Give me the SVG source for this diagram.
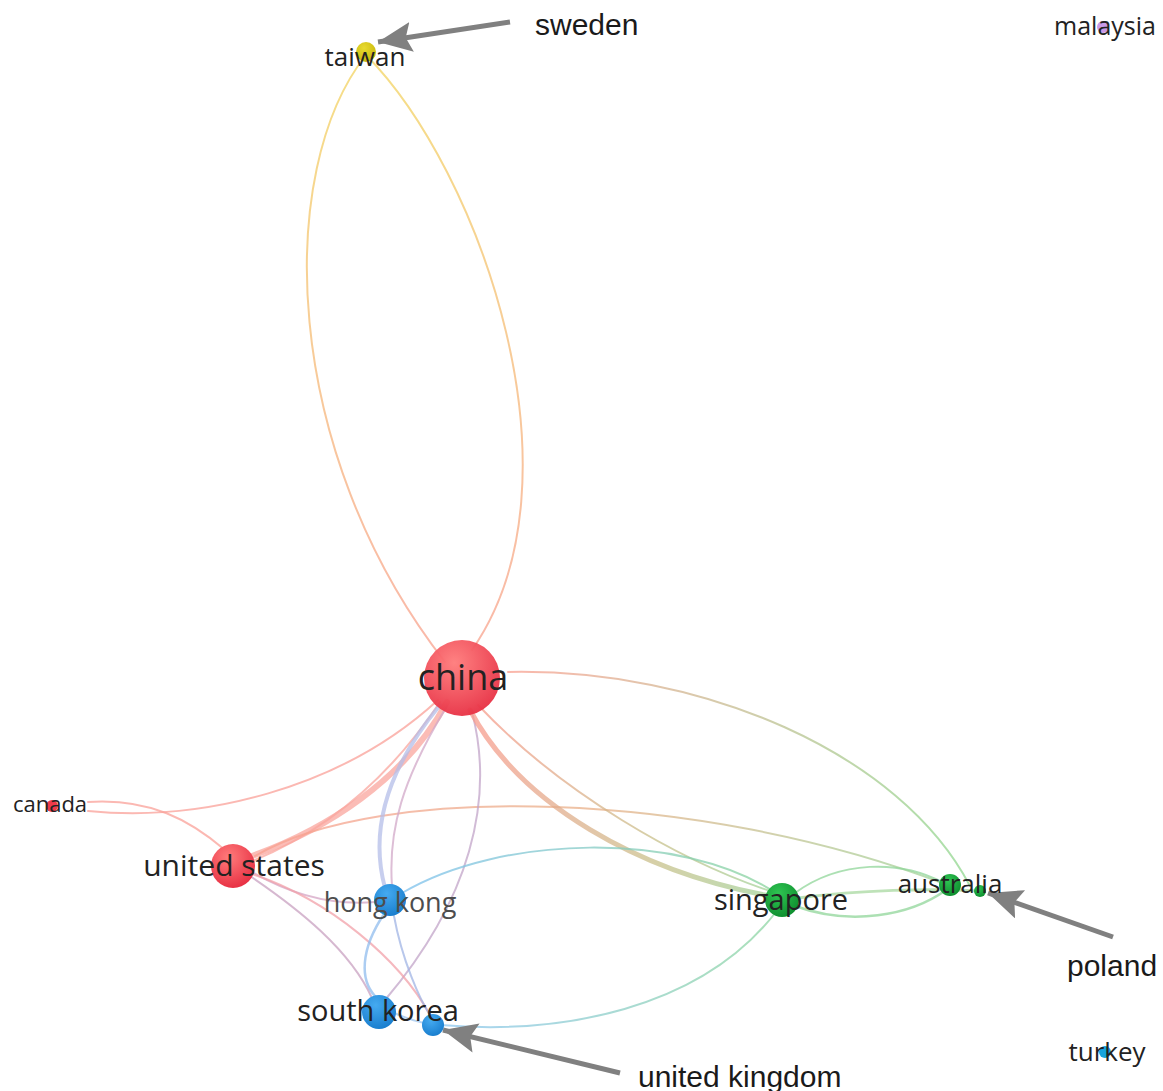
<svg xmlns="http://www.w3.org/2000/svg" width="1163" height="1091" viewBox="0 0 1163 1091">
<style>
.lbl{font-family:"Open Sans","Noto Sans",sans-serif;fill:#222;text-anchor:middle}
.ann{font-family:"Liberation Sans",Arial,sans-serif;fill:#1a1a1a;font-size:30px}
.e{fill:none;stroke-linecap:round;opacity:0.75}
.arr{fill:none;stroke:#808080;stroke-width:5}
</style>
<defs>
<radialGradient id="gRed" cx="0.4" cy="0.3" r="0.7"><stop offset="0" stop-color="#ff7b7b"/><stop offset="1" stop-color="#e83245"/></radialGradient>
<radialGradient id="gBlue" cx="0.4" cy="0.3" r="0.7"><stop offset="0" stop-color="#45aaf0"/><stop offset="1" stop-color="#1a7fcf"/></radialGradient>
<radialGradient id="gGreen" cx="0.4" cy="0.3" r="0.7"><stop offset="0" stop-color="#2fc452"/><stop offset="1" stop-color="#0f9030"/></radialGradient>
<radialGradient id="gYellow" cx="0.4" cy="0.3" r="0.7"><stop offset="0" stop-color="#e8da30"/><stop offset="1" stop-color="#c9b80c"/></radialGradient>
<linearGradient id="tw" gradientUnits="userSpaceOnUse" x1="0" y1="55" x2="0" y2="660"><stop offset="0" stop-color="#f2d45e"/><stop offset="1" stop-color="#f8a08e"/></linearGradient>
<linearGradient id="cs" gradientUnits="userSpaceOnUse" x1="470" y1="0" x2="780" y2="0"><stop offset="0" stop-color="#f99a8c"/><stop offset="0.6" stop-color="#c8c08a"/><stop offset="1" stop-color="#9fd49a"/></linearGradient>
<linearGradient id="ca" gradientUnits="userSpaceOnUse" x1="510" y1="0" x2="970" y2="0"><stop offset="0" stop-color="#f9a090"/><stop offset="1" stop-color="#8fd88f"/></linearGradient>
<linearGradient id="ua" gradientUnits="userSpaceOnUse" x1="250" y1="0" x2="945" y2="0"><stop offset="0" stop-color="#f9a090"/><stop offset="0.5" stop-color="#e8b088"/><stop offset="1" stop-color="#9fd49a"/></linearGradient>
<linearGradient id="hs" gradientUnits="userSpaceOnUse" x1="400" y1="0" x2="780" y2="0"><stop offset="0" stop-color="#7cc0ee"/><stop offset="1" stop-color="#8ad49a"/></linearGradient>
<linearGradient id="su" gradientUnits="userSpaceOnUse" x1="440" y1="0" x2="780" y2="0"><stop offset="0" stop-color="#8cc6f0"/><stop offset="1" stop-color="#8ed6a0"/></linearGradient>
<marker id="ah" markerUnits="userSpaceOnUse" markerWidth="40" markerHeight="34" refX="34" refY="15" orient="auto"><polygon points="0,0 34,15 0,30 6,15" fill="#808080"/></marker>
</defs>
<rect width="1163" height="1091" fill="#fff"/>
<g id="connectors">
<path class="e" stroke="url(#tw)" stroke-width="2" d="M366,55 C275,170 280,450 445,662"/>
<path class="e" stroke="url(#tw)" stroke-width="2" d="M366,55 C480,170 590,480 472,650"/>
<path class="e" stroke="#f9a098" stroke-width="2" d="M88,811 C200,822 340,790 438,700"/>
<path class="e" stroke="#f9a098" stroke-width="2" d="M88,802 C150,798 190,820 225,850"/>
<path class="e" stroke="#f9a59e" stroke-width="6" d="M447,702 C405,780 325,830 252,856"/>
<path class="e" stroke="#f9a59e" stroke-width="2" d="M440,702 C380,792 310,838 250,862"/>
<path class="e" stroke="url(#ua)" stroke-width="2" d="M255,856 C380,782 700,790 945,884"/>
<path class="e" stroke="#b4bde8" stroke-width="4" d="M440,705 C378,780 372,840 385,888"/>
<path class="e" stroke="#d2a8c8" stroke-width="2" d="M447,706 C402,780 388,830 392,886"/>
<path class="e" stroke="#c2a4c8" stroke-width="2" d="M472,712 C495,800 470,900 385,1000"/>
<path class="e" stroke="url(#cs)" stroke-width="5" d="M470,710 C520,805 640,872 770,896"/>
<path class="e" stroke="url(#cs)" stroke-width="2" d="M478,705 C560,792 680,862 776,893"/>
<path class="e" stroke="url(#ca)" stroke-width="2" d="M508,672 C700,668 900,752 970,886"/>
<path class="e" stroke="#90d69a" stroke-width="2" d="M795,893 C840,860 900,860 942,882"/>
<path class="e" stroke="#90d69a" stroke-width="2.5" d="M795,906 C850,926 910,916 946,890"/>
<path class="e" stroke="#a8d8a0" stroke-width="3" d="M798,898 C860,890 930,888 978,891"/>
<path class="e" stroke="url(#su)" stroke-width="2" d="M776,912 C700,1010 560,1035 440,1025"/>
<path class="e" stroke="url(#hs)" stroke-width="2" d="M402,893 C500,835 680,830 776,893"/>
<path class="e" stroke="#d4a4c4" stroke-width="2" d="M252,872 C300,900 340,905 375,902"/>
<path class="e" stroke="#c8a0c0" stroke-width="2" d="M250,876 C300,910 350,950 372,998"/>
<path class="e" stroke="#f2a0a8" stroke-width="2" d="M252,874 C330,900 400,960 430,1015"/>
<path class="e" stroke="#90bcee" stroke-width="2.5" d="M384,914 C360,950 360,980 375,996"/>
<path class="e" stroke="#a0b4e4" stroke-width="2" d="M394,916 C402,960 420,1000 430,1015"/>
<path class="e" stroke="#9ec4ee" stroke-width="2" d="M392,1012 C405,1018 418,1022 428,1024"/>
</g>
<g id="annotations">
<line class="arr" x1="510" y1="22" x2="378" y2="42" marker-end="url(#ah)"/>
<text class="ann" x="535" y="35">sweden</text>
<line class="arr" x1="1113" y1="937" x2="988" y2="893" marker-end="url(#ah)"/>
<text class="ann" x="1067" y="976">poland</text>
<line class="arr" x1="620" y1="1073" x2="443" y2="1030" marker-end="url(#ah)"/>
<text class="ann" x="638" y="1087">united kingdom</text>
</g>
<g id="node-taiwan"><circle cx="366" cy="52" r="10" fill="url(#gYellow)"/><text class="lbl" x="365" y="66" font-size="26">taiwan</text></g>
<g id="node-malaysia"><circle cx="1103" cy="27" r="6" fill="#c99ae8"/><text class="lbl" x="1105" y="35" font-size="25">malaysia</text></g>
<g id="node-china"><circle cx="462" cy="678" r="38" fill="url(#gRed)" opacity="0.95"/><text class="lbl" x="463" y="690" font-size="36">china</text></g>
<g id="node-canada"><circle cx="52" cy="806" r="6" fill="#ee3a4a"/><text class="lbl" x="50" y="812" font-size="22">canada</text></g>
<g id="node-united-states"><circle cx="233" cy="866" r="22" fill="url(#gRed)"/><text class="lbl" x="234" y="876" font-size="30">united states</text></g>
<g id="node-hong-kong"><circle cx="390" cy="900" r="16" fill="url(#gBlue)"/><text class="lbl" x="390" y="912" font-size="27" style="fill:#4d4d4d">hong kong</text></g>
<g id="node-united-kingdom"><circle cx="433" cy="1025" r="11" fill="url(#gBlue)"/></g>
<g id="node-south-korea"><circle cx="379" cy="1012" r="17" fill="url(#gBlue)"/><text class="lbl" x="378" y="1021" font-size="29">south korea</text></g>
<g id="node-singapore"><circle cx="782" cy="900" r="17" fill="url(#gGreen)"/><text class="lbl" x="781" y="910" font-size="29">singapore</text></g>
<g id="node-poland"><circle cx="980" cy="891" r="6" fill="url(#gGreen)"/></g>
<g id="node-australia"><circle cx="950" cy="885" r="11" fill="url(#gGreen)"/><text class="lbl" x="950" y="893" font-size="26">australia</text></g>
<g id="node-turkey"><circle cx="1105" cy="1052" r="6" fill="#18a4dc"/><text class="lbl" x="1107" y="1061" font-size="26">turkey</text></g>
</svg>
